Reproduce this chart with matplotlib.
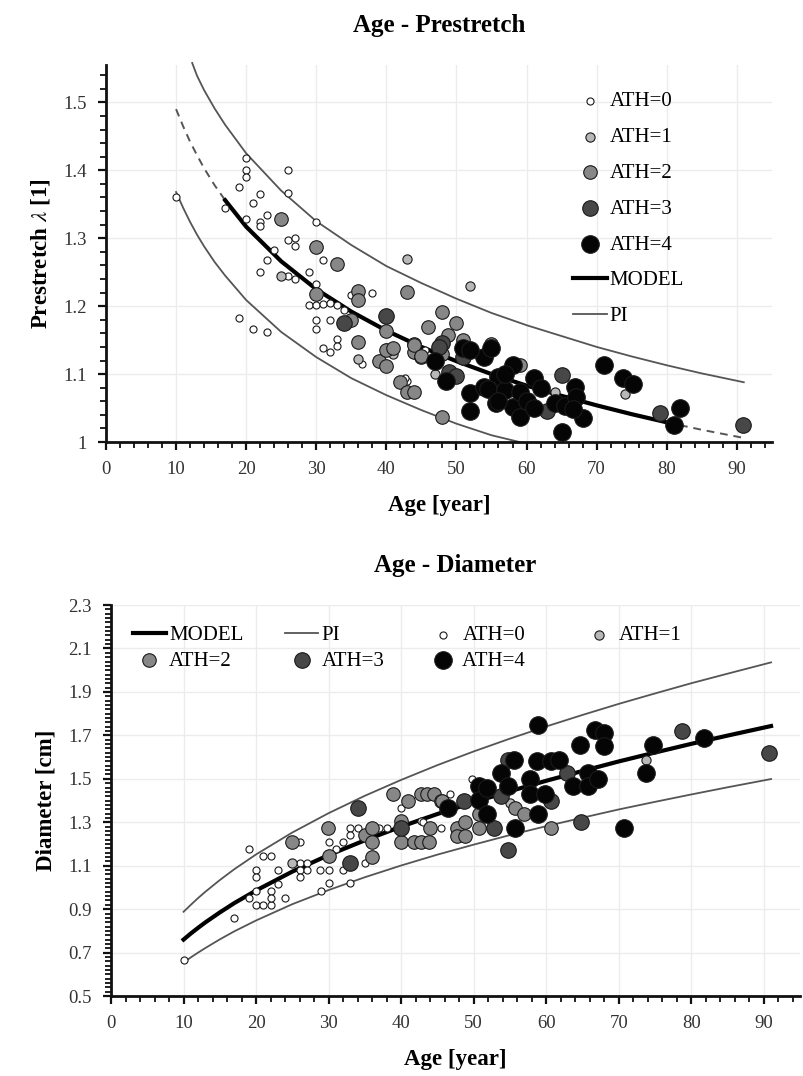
import matplotlib
matplotlib.use("Agg")
import matplotlib.pyplot as plt
from matplotlib.ticker import MultipleLocator, FuncFormatter
from matplotlib.lines import Line2D

plt.rcParams['font.family'] = ['Liberation Serif', 'DejaVu Serif']
plt.rcParams['mathtext.fontset'] = 'stix'

# ---------------- Age - Prestretch data ----------------
pre_age_ath0 = [10, 17, 20, 20, 20, 19, 22, 21, 26, 26, 30, 20, 22, 22, 23, 26, 27, 27, 24, 23, 22, 31,
                26, 27, 29, 30, 29, 30, 31, 32, 33, 34, 35, 38, 19, 21, 23, 30, 30, 32, 33, 33, 31, 32,
                36.5, 43, 45.5, 40, 42.7]
pre_val_ath0 = [1.360, 1.345, 1.418, 1.401, 1.390, 1.375, 1.365, 1.352, 1.401, 1.367, 1.324, 1.329, 1.324,
                1.318, 1.334, 1.297, 1.301, 1.289, 1.283, 1.268, 1.250, 1.268, 1.244, 1.240, 1.250, 1.233,
                1.201, 1.201, 1.203, 1.205, 1.201, 1.194, 1.216, 1.220, 1.183, 1.167, 1.162, 1.179, 1.167,
                1.179, 1.152, 1.142, 1.139, 1.133, 1.115, 1.090, 1.136, 1.140, 1.094]
pre_age_ath1 = [25, 36, 43, 52, 64, 74, 41, 47]
pre_val_ath1 = [1.245, 1.122, 1.269, 1.229, 1.074, 1.071, 1.130, 1.100]
pre_age_ath2 = [25, 30, 33, 30, 36, 36, 43, 35, 36, 40, 39, 40, 40, 41, 44, 44, 45, 42, 43, 44, 48, 48,
                46, 50, 48.8, 44, 45, 51, 55, 59, 48]
pre_val_ath2 = [1.328, 1.287, 1.262, 1.218, 1.223, 1.209, 1.221, 1.179, 1.147, 1.163, 1.120, 1.112, 1.135,
                1.138, 1.145, 1.133, 1.125, 1.089, 1.074, 1.074, 1.037, 1.192, 1.170, 1.175, 1.157, 1.143,
                1.126, 1.150, 1.145, 1.113, 1.130]
pre_age_ath3 = [34, 40, 48, 49, 50, 51, 59.8, 62.9, 65, 79, 90.9, 47.5]
pre_val_ath3 = [1.175, 1.186, 1.146, 1.103, 1.097, 1.125, 1.053, 1.045, 1.099, 1.042, 1.025, 1.140]
pre_age_ath4 = [47, 48.5, 51, 54, 55, 58, 56, 52, 52, 54, 54.5, 55.7, 57, 58.1, 59, 59, 61, 62, 64, 65,
                65.5, 66.9, 67, 68, 66.7, 71, 73.7, 75.2, 81.9, 81, 52, 56, 60, 57, 61]
pre_val_ath4 = [1.120, 1.090, 1.138, 1.125, 1.138, 1.113, 1.096, 1.072, 1.045, 1.081, 1.078, 1.057, 1.077,
                1.052, 1.037, 1.073, 1.094, 1.080, 1.058, 1.015, 1.053, 1.081, 1.066, 1.035, 1.048, 1.113,
                1.094, 1.086, 1.050, 1.025, 1.135, 1.060, 1.060, 1.100, 1.050]

pre_model_age = [10, 11, 12, 13, 14, 15.5, 17, 20, 25, 30, 35, 40, 45, 50, 55, 60, 65, 70, 75, 80, 85, 91]
pre_model_val = [1.490, 1.465, 1.442, 1.422, 1.403, 1.378, 1.356, 1.317, 1.266, 1.225, 1.192, 1.164,
                 1.140, 1.119, 1.100, 1.083, 1.068, 1.054, 1.041, 1.029, 1.018, 1.006]
pre_pi_up_age = [12.3, 13, 14, 15.5, 17, 20, 25, 30, 35, 40, 45, 50, 55, 60, 65, 70, 75, 80, 85, 91]
pre_pi_up_val = [1.558, 1.539, 1.518, 1.491, 1.467, 1.425, 1.370, 1.325, 1.290, 1.259, 1.234, 1.211,
                 1.190, 1.172, 1.156, 1.140, 1.126, 1.113, 1.101, 1.088]
pre_pi_lo_age = [10, 11, 12, 13, 14, 15.5, 17, 20, 25, 30, 35, 40, 45, 50, 55, 59]
pre_pi_lo_val = [1.368, 1.345, 1.324, 1.305, 1.288, 1.265, 1.245, 1.209, 1.162, 1.125, 1.094, 1.069,
                 1.047, 1.027, 1.010, 1.000]

# ---------------- Age - Diameter data ----------------
dia_age_ath0 = [10, 16.9, 19, 19, 20, 20, 20, 20, 21, 22, 21, 22, 22, 22, 23, 23, 24, 26, 26, 27, 26, 27,
                26, 28.8, 30, 30, 30, 29, 31, 32, 32, 33, 33, 34, 33, 35, 37, 38, 40, 42.8, 45.5, 43,
                46.8, 49.7]
dia_val_ath0 = [0.666, 0.858, 1.176, 0.950, 1.081, 1.050, 0.985, 0.919, 0.919, 0.919, 1.145, 1.145, 0.985,
                0.950, 1.081, 1.017, 0.950, 1.208, 1.111, 1.111, 1.081, 1.081, 1.050, 1.081, 1.208, 1.081,
                1.020, 0.985, 1.176, 1.208, 1.081, 1.273, 1.242, 1.273, 1.020, 1.114, 1.273, 1.273, 1.365,
                1.305, 1.273, 1.300, 1.430, 1.500]
dia_age_ath1 = [25, 73.7, 48, 55]
dia_val_ath1 = [1.111, 1.588, 1.240, 1.390]
dia_age_ath2 = [24.9, 29.9, 30, 35, 36, 36, 36, 38.9, 40.9, 40, 40, 41.8, 42.7, 43.8, 44, 42.7, 43.6, 44.5,
                45.5, 45.7, 47.7, 48.8, 47.7, 48.8, 50.8, 50.8, 55.7, 56.9, 60.7]
dia_val_ath2 = [1.208, 1.273, 1.145, 1.242, 1.273, 1.208, 1.140, 1.431, 1.399, 1.305, 1.208, 1.208, 1.208,
                1.208, 1.273, 1.431, 1.431, 1.431, 1.399, 1.400, 1.273, 1.300, 1.238, 1.238, 1.273, 1.340,
                1.365, 1.340, 1.273]
dia_age_ath3 = [33, 34, 40, 48.6, 52.8, 53.8, 54.8, 54.8, 60.7, 62.8, 64.8, 78.7, 90.7]
dia_val_ath3 = [1.114, 1.365, 1.273, 1.400, 1.273, 1.420, 1.588, 1.173, 1.400, 1.526, 1.303, 1.718, 1.620]
dia_age_ath4 = [46.5, 50.7, 50.7, 51.8, 51.8, 53.7, 55.5, 54.8, 55.7, 57.7, 57.7, 58.7, 58.8, 58.8, 59.8,
                60.7, 61.8, 63.7, 64.7, 65.7, 65.7, 66.7, 67.9, 67.9, 67.2, 70.7, 74.7, 73.7, 81.7]
dia_val_ath4 = [1.365, 1.465, 1.404, 1.460, 1.340, 1.526, 1.588, 1.465, 1.273, 1.500, 1.430, 1.580, 1.749,
                1.340, 1.430, 1.580, 1.588, 1.465, 1.657, 1.526, 1.465, 1.726, 1.710, 1.650, 1.500, 1.273,
                1.657, 1.526, 1.687]

dia_model_age = [10, 11, 12, 13, 15, 17, 20, 25, 30, 35, 40, 45, 50, 55, 60, 65, 70, 75, 80, 85, 91]
dia_model_val = [0.760, 0.788, 0.814, 0.839, 0.885, 0.928, 0.986, 1.073, 1.149, 1.217, 1.280, 1.338,
                 1.392, 1.443, 1.491, 1.536, 1.580, 1.621, 1.661, 1.699, 1.743]
dia_pi_up_val = [0.888, 0.920, 0.951, 0.980, 1.034, 1.084, 1.152, 1.253, 1.342, 1.422, 1.495, 1.563,
                 1.626, 1.685, 1.741, 1.794, 1.845, 1.893, 1.940, 1.984, 2.036]
dia_pi_lo_val = [0.654, 0.678, 0.700, 0.721, 0.761, 0.798, 0.848, 0.923, 0.988, 1.047, 1.101, 1.151,
                 1.197, 1.241, 1.282, 1.321, 1.359, 1.394, 1.428, 1.461, 1.499]

ath_labels = ['ATH=0', 'ATH=1', 'ATH=2', 'ATH=3', 'ATH=4']
ath_colors = ['#ffffff', '#b8b8b8', '#878787', '#474747', '#050505']
ath_sizes = [26, 44, 95, 125, 160]

fig = plt.figure(figsize=(8.04, 10.76), dpi=100)
ax1 = fig.add_axes([0.1318, 0.5892, 0.8282, 0.3504])
ax2 = fig.add_axes([0.1381, 0.0743, 0.857, 0.3634])

GRID = '#ececec'


def style_axes(ax):
    for s in ['top', 'right']:
        ax.spines[s].set_visible(False)
    for s in ['left', 'bottom']:
        ax.spines[s].set_linewidth(2.0)
        ax.spines[s].set_color('#111111')
    ax.grid(True, which='major', color=GRID, linewidth=1.0, zorder=0)
    ax.set_axisbelow(True)
    ax.tick_params(which='major', direction='out', length=6, width=1.6, color='#111111',
                   labelsize=13.5, labelcolor='#333333', pad=8)
    ax.tick_params(which='minor', direction='out', length=4, width=1.3, color='#111111')
    ax.xaxis.set_major_locator(MultipleLocator(10))
    ax.xaxis.set_minor_locator(MultipleLocator(2))
    ax.set_xlim(0, 95)


fmt = FuncFormatter(lambda v, p: ('%g' % round(v, 3)))

# ---------------- top chart ----------------
style_axes(ax1)
ax1.set_ylim(1.0, 1.555)
ax1.yaxis.set_major_locator(MultipleLocator(0.1))
ax1.yaxis.set_minor_locator(MultipleLocator(0.02))
ax1.yaxis.set_major_formatter(fmt)

pre_ages = [pre_age_ath0, pre_age_ath1, pre_age_ath2, pre_age_ath3, pre_age_ath4]
pre_vals = [pre_val_ath0, pre_val_ath1, pre_val_ath2, pre_val_ath3, pre_val_ath4]
h_pts = []
for i in range(5):
    h = ax1.scatter(pre_ages[i], pre_vals[i], s=ath_sizes[i], c=ath_colors[i], edgecolors='#1a1a1a',
                    linewidths=0.8, zorder=3 + i * 0.1, label=ath_labels[i], clip_on=False)
    h_pts.append(h)

ax1.plot(pre_pi_up_age, pre_pi_up_val, color='#555555', lw=1.3, zorder=2, clip_on=False)
ax1.plot(pre_pi_lo_age, pre_pi_lo_val, color='#555555', lw=1.3, zorder=2)
ax1.plot(pre_model_age[:7], pre_model_val[:7], color='#555555', lw=1.4, ls=(0, (4, 3)), zorder=2)
ax1.plot(pre_model_age[6:20], pre_model_val[6:20], color='black', lw=3.0, zorder=2.5)
ax1.plot(pre_model_age[19:], pre_model_val[19:], color='#555555', lw=1.4, ls=(0, (4, 3)), zorder=2)

h_model = Line2D([], [], color='black', lw=3.0)
h_pi = Line2D([], [], color='#555555', lw=1.3)
ax1.legend(h_pts + [h_model, h_pi], ath_labels + ['MODEL', 'PI'], loc='upper left',
           bbox_to_anchor=(0.68, 0.968), frameon=False, fontsize=15, labelspacing=0.78,
           handlelength=1.6, handletextpad=0.15, scatterpoints=1, borderpad=0.2)

ax1.set_title('Age - Prestretch', fontsize=18, fontweight='bold', pad=24)
ax1.set_xlabel('Age [year]', fontsize=16.5, fontweight='bold', labelpad=12)
ax1.set_ylabel(r'Prestretch $\lambda$ [1]', fontsize=16.5, fontweight='bold', labelpad=8)

# ---------------- bottom chart ----------------
style_axes(ax2)
ax2.set_ylim(0.5, 2.3)
ax2.set_yticks([0.5, 0.7, 0.9, 1.1, 1.3, 1.5, 1.7, 1.9, 2.1, 2.3])
ax2.yaxis.set_minor_locator(MultipleLocator(0.02))
ax2.yaxis.set_major_formatter(fmt)

dia_ages = [dia_age_ath0, dia_age_ath1, dia_age_ath2, dia_age_ath3, dia_age_ath4]
dia_vals = [dia_val_ath0, dia_val_ath1, dia_val_ath2, dia_val_ath3, dia_val_ath4]
h2 = []
for i in range(5):
    h = ax2.scatter(dia_ages[i], dia_vals[i], s=ath_sizes[i], c=ath_colors[i], edgecolors='#1a1a1a',
                    linewidths=0.8, zorder=3 + i * 0.1, label=ath_labels[i])
    h2.append(h)

ax2.plot(dia_model_age, dia_pi_up_val, color='#555555', lw=1.3, zorder=2)
ax2.plot(dia_model_age, dia_pi_lo_val, color='#555555', lw=1.3, zorder=2)
ax2.plot(dia_model_age, dia_model_val, color='black', lw=3.0, zorder=2.5)

hm2 = Line2D([], [], color='black', lw=3.0)
hp2 = Line2D([], [], color='#555555', lw=1.3)
handles = [hm2, h2[2], hp2, h2[3], h2[0], h2[4], h2[1]]
labels = ['MODEL', 'ATH=2', 'PI', 'ATH=3', 'ATH=0', 'ATH=4   ', 'ATH=1']
ax2.legend(handles, labels, loc='upper left', bbox_to_anchor=(0.01, 0.985), ncol=4, frameon=False,
           fontsize=15, labelspacing=0.3, handlelength=1.6, handletextpad=0.15, columnspacing=2.0,
           scatterpoints=1, borderpad=0.2)

ax2.set_title('Age - Diameter', fontsize=18, fontweight='bold', pad=24)
ax2.set_xlabel('Age [year]', fontsize=16.5, fontweight='bold', labelpad=12)
ax2.set_ylabel('Diameter [cm]', fontsize=16.5, fontweight='bold', labelpad=8)

fig.savefig('out.png', dpi=100, facecolor='white')
